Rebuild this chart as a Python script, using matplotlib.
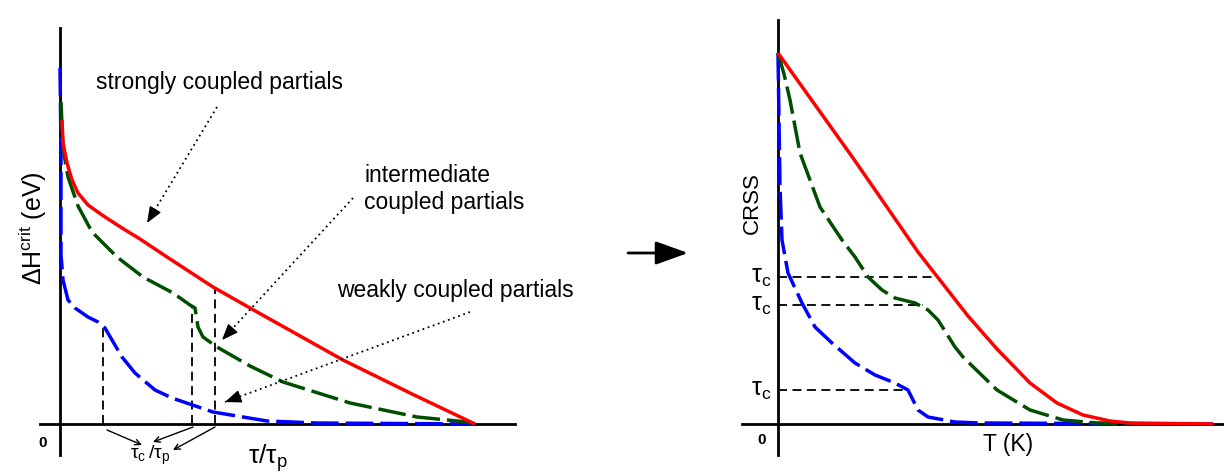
import numpy as np
import matplotlib
matplotlib.use("Agg")
import matplotlib.pyplot as plt

plt.rcParams['font.family'] = ['Liberation Sans', 'DejaVu Sans']
plt.rcParams['mathtext.default'] = 'regular'

# sketch units: 0 at the axis crossing of each panel
# left panel: activation enthalpy vs tau/tau_p
strong_x = [2, 3, 7, 12, 18, 28, 42, 62, 80, 107, 153, 190, 283, 350, 415]
strong_y = [304, 281, 261, 244, 231, 219, 209, 196, 185, 167, 137, 116, 64, 31, 0]

inter_x = [1, 3, 8, 18, 32, 57, 83, 113, 130, 135, 138, 143, 157, 190, 223, 290, 357, 407, 415]
inter_y = [322, 276, 247, 218, 192, 167, 147, 131, 119, 116, 97, 87, 77, 58, 42, 21, 7, 2, 0]

weak_x = [0, 1, 1, 3, 8, 15, 28, 38, 45, 52, 62, 75, 95, 112, 153, 207, 257, 415]
weak_y = [356, 274, 169, 144, 124, 116, 107, 102, 96, 84, 67, 51, 34, 26, 12, 3, 1, 0]

# tau_c positions on the left panel (x, top of dashed drop line)
crit_x = [43, 132, 155]
crit_top = [96, 119, 136]

# right panel: CRSS vs T
crss_strong_x = [0, 75, 140, 165, 190, 219, 252, 279, 305, 332, 352, 435]
crss_strong_y = [371, 266, 172, 140, 108, 75, 41, 21, 9, 3, 1, 0]

crss_inter_x = [0, 6, 12, 22, 42, 64, 77, 90, 104, 117, 137, 150, 160, 177, 185, 219, 252, 285, 319, 372]
crss_inter_y = [371, 350, 324, 271, 217, 184, 167, 147, 134, 126, 121, 114, 104, 77, 67, 34, 14, 4, 1, 0]

crss_weak_x = [0, 1, 2, 4, 10, 24, 37, 54, 77, 97, 117, 130, 135, 140, 150, 177, 202, 435]
crss_weak_y = [371, 304, 237, 184, 151, 121, 97, 81, 61, 49, 41, 34, 24, 14, 7, 2, 1, 0]

tauc_level = [147, 119, 34]
tauc_end = [159, 145, 129]

RED = '#ff0000'
GREEN = '#004f00'
BLUE = '#0000ff'
W, H = 1224, 472

fig = plt.figure(figsize=(W / 100, H / 100), dpi=100)
ax1 = fig.add_axes([0, 0, 620 / W, 1])
ax2 = fig.add_axes([620 / W, 0, 604 / W, 1])
ax1.set_xlim(-60, 560)
ax1.set_ylim(-48, 424)
ax2.set_xlim(-158, 446)
ax2.set_ylim(-48, 424)
for a in (ax1, ax2):
    a.axis('off')

dash = (0, (8, 2))
lw = 2.5
kw = dict(lw=lw, solid_joinstyle='round', dash_joinstyle='round', solid_capstyle='butt')


def pointer(ax, start, end):
    # dotted leader line with a solid arrow head
    ax.plot([start[0], end[0]], [start[1], end[1]], color='k', lw=1.3, ls=(0, (1, 2)))
    d = np.subtract(start, end)
    d = d / np.hypot(*d)
    ax.annotate('', xy=end, xytext=(end[0] + 10 * d[0], end[1] + 10 * d[1]),
                arrowprops=dict(arrowstyle='-|>,head_length=0.55,head_width=0.22',
                                color='k', lw=1, shrinkA=0, shrinkB=0, mutation_scale=18))


# ---- left panel ----
ax1.plot([0, 0], [-31, 396], color='k', lw=2)
ax1.plot([-20, 455], [0, 0], color='k', lw=2)
for x, t in zip(crit_x, crit_top):
    ax1.plot([x, x], [0, t], color='k', lw=1.3, ls=(0, (5, 3)))
ax1.plot(weak_x, weak_y, color=BLUE, ls=dash, **kw)
ax1.plot(inter_x, inter_y, color=GREEN, ls=dash, **kw)
ax1.plot(strong_x, strong_y, color=RED, **kw)

ax1.text(-17, -19, '0', fontsize=11, fontweight='bold', ha='center', va='center')
ax1.text(-27, 196, r'$\Delta$H$^{crit}$ (eV)', fontsize=18, rotation=90, ha='center', va='center')
ax1.text(208, -34, r'$\tau/\tau_p$', fontsize=19, ha='center', va='center')
ax1.text(90, -31, r'$\tau_c\,/\tau_p$', fontsize=14, ha='center', va='center')

small = dict(arrowstyle='->', color='k', lw=1, shrinkA=0, shrinkB=0)
ax1.annotate('', xy=(82, -21), xytext=(47, -6), arrowprops=small)
ax1.annotate('', xy=(93, -18), xytext=(133, -3), arrowprops=small)
ax1.annotate('', xy=(113, -26), xytext=(155, -3), arrowprops=small)

ax1.text(160, 341, 'strongly coupled partials', fontsize=16.5, ha='center', va='center')
ax1.text(304, 248, 'intermediate', fontsize=16.5, ha='left', va='center')
ax1.text(304, 221, 'coupled partials', fontsize=16.5, ha='left', va='center')
ax1.text(277, 133, 'weakly coupled partials', fontsize=16.5, ha='left', va='center')

pointer(ax1, (157, 317), (87, 201))
pointer(ax1, (293, 226), (162, 84))
pointer(ax1, (410, 112), (165, 22))

# ---- arrow between panels ----
ax2.annotate('', xy=(-90, 171), xytext=(-150, 171),
             arrowprops=dict(arrowstyle='-|>,head_length=1.0,head_width=0.36',
                             color='k', lw=2, shrinkA=0, shrinkB=0, mutation_scale=20))

# ---- right panel ----
ax2.plot([0, 0], [-31, 404], color='k', lw=2)
ax2.plot([-36, 446], [0, 0], color='k', lw=2)
for yl, xe in zip(tauc_level, tauc_end):
    ax2.plot([0, xe], [yl, yl], color='k', lw=1.3, ls=(0, (5, 3)))
    ax2.text(-17, yl, r'$\tau_c$', fontsize=18, ha='center', va='center')
ax2.plot(crss_weak_x, crss_weak_y, color=BLUE, ls=dash, **kw)
ax2.plot(crss_inter_x, crss_inter_y, color=GREEN, ls=dash, **kw)
ax2.plot(crss_strong_x, crss_strong_y, color=RED, **kw)

ax2.text(-16, -16, '0', fontsize=11, fontweight='bold', ha='center', va='center')
ax2.text(-26, 221, 'CRSS', fontsize=16, rotation=90, ha='center', va='center')
ax2.text(230, -21, 'T (K)', fontsize=16.5, ha='center', va='center')

fig.savefig('out.png', dpi=100)
